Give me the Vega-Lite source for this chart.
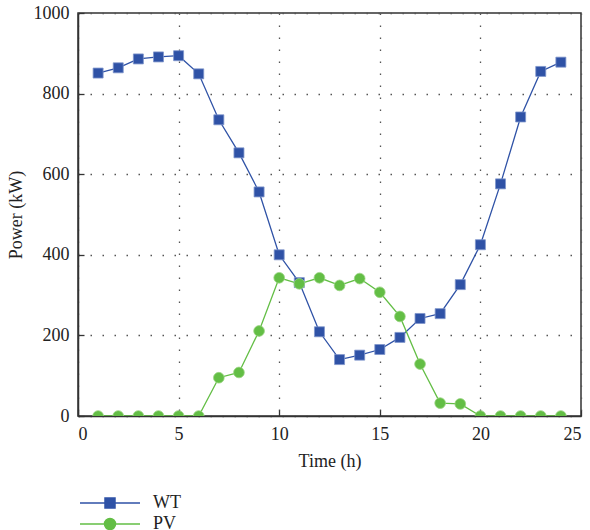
{
  "$schema": "https://vega.github.io/schema/vega-lite/v6.json",
  "width": 503,
  "height": 403,
  "autosize": "none",
  "padding": {"left": 78, "top": 13, "right": 9, "bottom": 114},
  "background": "white",
  "config": {
    "font": "Liberation Serif",
    "view": {"stroke": "#333", "strokeWidth": 1.5},
    "axis": {
      "domainColor": "#333",
      "domainWidth": 1.5,
      "tickColor": "#333",
      "tickSize": -6,
      "tickWidth": 1.3,
      "labelPadding": 15,
      "labelFont": "Liberation Serif",
      "labelFontSize": 18,
      "labelColor": "#222",
      "titleFont": "Liberation Serif",
      "titleFontSize": 18,
      "titleFontWeight": "normal",
      "titleColor": "#222",
      "gridColor": "#555",
      "gridDash": [1.5, 10.5],
      "gridWidth": 1.3
    }
  },
  "data": {
    "values": [
      {"time": 1, "series": "WT", "power": 851},
      {"time": 2, "series": "WT", "power": 864},
      {"time": 3, "series": "WT", "power": 886},
      {"time": 4, "series": "WT", "power": 891},
      {"time": 5, "series": "WT", "power": 894},
      {"time": 6, "series": "WT", "power": 849},
      {"time": 7, "series": "WT", "power": 735},
      {"time": 8, "series": "WT", "power": 653},
      {"time": 9, "series": "WT", "power": 556},
      {"time": 10, "series": "WT", "power": 400},
      {"time": 11, "series": "WT", "power": 331},
      {"time": 12, "series": "WT", "power": 209},
      {"time": 13, "series": "WT", "power": 140},
      {"time": 14, "series": "WT", "power": 151},
      {"time": 15, "series": "WT", "power": 165},
      {"time": 16, "series": "WT", "power": 195},
      {"time": 17, "series": "WT", "power": 242},
      {"time": 18, "series": "WT", "power": 254},
      {"time": 19, "series": "WT", "power": 326},
      {"time": 20, "series": "WT", "power": 425},
      {"time": 21, "series": "WT", "power": 576},
      {"time": 22, "series": "WT", "power": 742},
      {"time": 23, "series": "WT", "power": 855},
      {"time": 24, "series": "WT", "power": 878},
      {"time": 1, "series": "PV", "power": 0},
      {"time": 2, "series": "PV", "power": 0},
      {"time": 3, "series": "PV", "power": 0},
      {"time": 4, "series": "PV", "power": 0},
      {"time": 5, "series": "PV", "power": 0},
      {"time": 6, "series": "PV", "power": 0},
      {"time": 7, "series": "PV", "power": 95},
      {"time": 8, "series": "PV", "power": 108},
      {"time": 9, "series": "PV", "power": 211},
      {"time": 10, "series": "PV", "power": 343},
      {"time": 11, "series": "PV", "power": 328},
      {"time": 12, "series": "PV", "power": 343},
      {"time": 13, "series": "PV", "power": 324},
      {"time": 14, "series": "PV", "power": 341},
      {"time": 15, "series": "PV", "power": 307},
      {"time": 16, "series": "PV", "power": 247},
      {"time": 17, "series": "PV", "power": 129},
      {"time": 18, "series": "PV", "power": 32},
      {"time": 19, "series": "PV", "power": 30},
      {"time": 20, "series": "PV", "power": 0},
      {"time": 21, "series": "PV", "power": 0},
      {"time": 22, "series": "PV", "power": 0},
      {"time": 23, "series": "PV", "power": 0},
      {"time": 24, "series": "PV", "power": 0}
    ]
  },
  "encoding": {
    "x": {
      "field": "time",
      "type": "quantitative",
      "scale": {"domain": [0, 25], "nice": false, "zero": false},
      "axis": {"title": "Time (h)", "values": [0, 5, 10, 15, 20, 25], "titlePadding": 9}
    },
    "y": {
      "field": "power",
      "type": "quantitative",
      "scale": {"domain": [0, 1000], "nice": false},
      "axis": {"title": "Power (kW)", "values": [0, 200, 400, 600, 800, 1000], "format": "d", "titlePadding": 8}
    },
    "color": {
      "field": "series",
      "type": "nominal",
      "scale": {"domain": ["WT", "PV"], "range": ["#2F52A6", "#63BE45"]},
      "legend": {
        "orient": "none",
        "legendX": 21,
        "legendY": 479,
        "title": null,
        "padding": 0,
        "symbolSize": 400,
        "symbolStrokeWidth": 1.5,
        "labelFont": "Liberation Serif",
        "labelFontSize": 18,
        "labelColor": "#222",
        "labelOffset": 32,
        "rowPadding": 1,
        "encode": {
          "symbols": {
            "update": {
              "shape": {"signal": "datum.value === 'WT' ? 'M-3,0H3M-0.5,-0.5H0.5V0.5H-0.5Z' : 'M-3,0H3M0.55,0A0.55,0.55,0,1,1,-0.55,0A0.55,0.55,0,1,1,0.55,0Z'"},
              "fill": {"signal": "datum.value === 'WT' ? '#2F52A6' : '#63BE45'"},
              "stroke": {"signal": "datum.value === 'WT' ? '#2F52A6' : '#63BE45'"},
              "fillOpacity": {"value": 1},
              "opacity": {"value": 1}
            }
          }
        }
      }
    }
  },
  "layer": [
    {"mark": {"type": "line", "strokeWidth": 1.3, "clip": true}},
    {
      "transform": [{"filter": "datum.series === 'WT'"}],
      "mark": {"type": "point", "shape": "square", "filled": true, "opacity": 1, "clip": true, "size": 100, "stroke": "#7F95CC", "strokeWidth": 0.8}
    },
    {
      "transform": [{"filter": "datum.series === 'PV'"}],
      "mark": {"type": "point", "shape": "circle", "filled": true, "opacity": 1, "clip": true, "size": 115, "stroke": "#9AD483", "strokeWidth": 0.8}
    }
  ]
}
